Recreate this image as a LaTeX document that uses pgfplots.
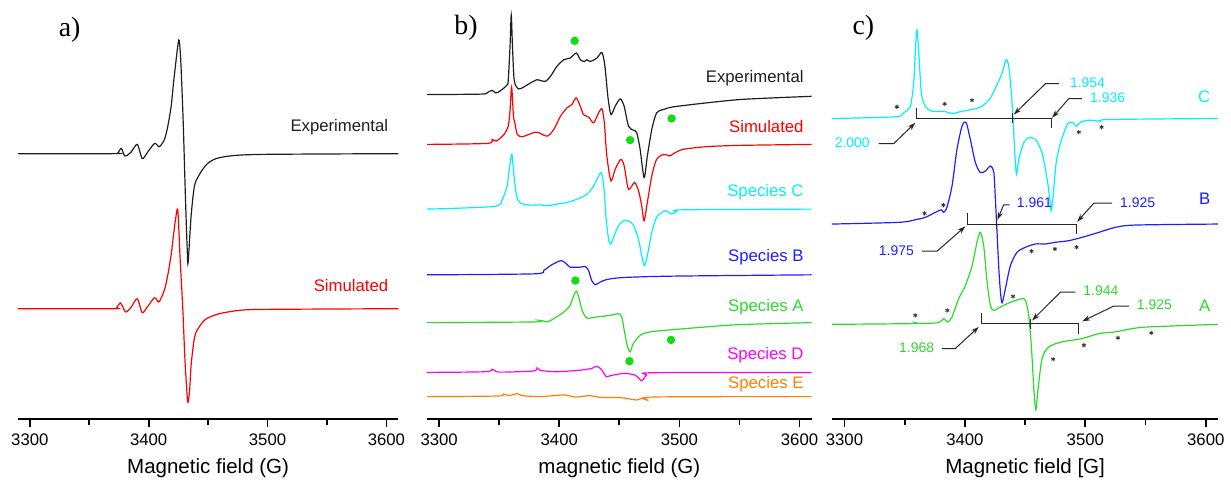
\documentclass[border=0pt]{standalone}
\usepackage{fontspec}
\setmainfont{Liberation Sans}
\newfontfamily\serif{Liberation Serif}
\usepackage{pgfplots}
\pgfplotsset{compat=1.18}
\usetikzlibrary{arrows.meta}

\definecolor{cExp}{RGB}{30,30,30}
\definecolor{cSim}{RGB}{255,0,0}
\definecolor{cC}{RGB}{0,240,255}
\definecolor{cB}{RGB}{30,30,255}
\definecolor{cA}{RGB}{40,220,40}
\definecolor{cD}{RGB}{255,0,255}
\definecolor{cE}{RGB}{255,128,0}
\definecolor{cDot}{RGB}{20,220,20}

\pgfplotsset{
  epr/.style={
    scale only axis, height=210.5pt, anchor=south west,
    xmin=3290, xmax=3610, ymin=0, ymax=421,
    axis x line*=bottom, axis y line=none, clip=false,
    xtick={3300,3400,3500,3600}, minor xtick={3350,3450,3550},
    tick align=outside, major tick length=4pt, minor tick length=3pt,
    every tick/.style={black, line width=0.9pt},
    axis line style={black, line width=1.2pt},
    xticklabel style={font=\fontsize{8.4}{9}\selectfont,
      /pgf/number format/1000 sep={}},
    /pgf/number format/assume math mode=true,
    xlabel style={font=\fontsize{10.3}{12}\selectfont,
      at={(axis description cs:0.5,0)}, anchor=center, yshift=-24.5pt},
    every axis plot/.append style={line width=0.6pt, mark=none, smooth, tension=0.45},
  },
  star/.style={only marks, mark=asterisk, mark size=1.1pt, black!80,
    mark options={line width=0.4pt}},
}
\tikzset{
  lab/.style={anchor=east, font=\fontsize{8.4}{10}\selectfont},
  labc/.style={font=\fontsize{7}{8}\selectfont},
  ann/.style={black!85, line width=0.55pt},
  arr/.style={black!85, line width=0.5pt, -{Stealth[length=4pt,width=2.6pt]}},
}

\begin{document}
\begin{tikzpicture}
\path (0,0) rectangle (615.5pt,243pt);

% ---------------- a)
\begin{axis}[epr, at={(9pt,32.5pt)}, width=191pt, xlabel={Magnetic field (G)}]
\addplot[cExp] coordinates {
(3290,266.7) (3370,266.7) (3374,267.5) (3377,272) (3380,264.3) (3385,268)
(3390.4,276) (3394.6,261.7) (3399,268) (3405,277) (3409,273.7) (3413.3,281)
(3416.1,294.3) (3418.9,314.3) (3420.9,337.7) (3423.1,361) (3424.8,377.7)
(3425.7,380.3) (3427,360) (3429,300) (3431,220) (3432.5,168) (3433.2,157.7)
(3435.7,204.3) (3438.5,234.3) (3442,244.3) (3445.5,251) (3449.7,257)
(3456.7,261.7) (3470.7,264.7) (3498.7,266) (3610,266.7)};
\addplot[cSim] coordinates {
(3290,111) (3370,111) (3373,112) (3376.4,116.7) (3380.6,107.7) (3385,112)
(3390.4,121) (3394.6,107) (3399,113) (3405,122) (3408.6,117.7) (3413.3,130)
(3416.1,145) (3418.9,165) (3420.9,185) (3422.5,200) (3424.5,210) (3426.5,160)
(3428.7,111) (3430.5,60) (3432.3,25) (3433.2,17) (3434.5,30) (3435.7,54.3)
(3438,78) (3440,87.7) (3445.5,97.7) (3449.7,101.7) (3459.5,106) (3476,109.3)
(3498,110.3) (3610,111)};
\node[lab, cExp] at (axis cs:3607.4,293) {Experimental};
\node[lab, cSim] at (axis cs:3607.4,134) {Simulated};
\node[font=\serif\fontsize{14}{16}\selectfont] at (axis cs:3333.5,391) {a)};
\end{axis}

% ---------------- b)
\begin{axis}[epr, at={(214.5pt,32.5pt)}, width=193pt, xlabel={magnetic field (G)}]
\addplot[cExp] coordinates {
(3290,326) (3335,326.5) (3340,328) (3344,330.3) (3347,327.7) (3350,329)
(3354,332.7) (3356.7,336) (3357.5,340) (3359,375) (3360,406) (3361,375)
(3362.5,340) (3366,331.7) (3370.5,333.7) (3376,337.7) (3381.6,341)
(3384,340.3) (3388.5,339.3) (3392.6,344.3) (3398,354.3) (3403.7,361)
(3409,362.7) (3414.2,367.7) (3417.5,361) (3420.8,359.3) (3423,361)
(3425.8,359.3) (3431.3,362.7) (3435.5,368.3) (3438,354.3) (3440.4,324.3)
(3443,306) (3446.5,314.3) (3450.7,321.7) (3454,314.3) (3457.6,294.3)
(3461.7,290.3) (3464.5,287.7) (3467.3,271) (3470.6,242.7) (3473.3,264.3)
(3477,291) (3481,307.7) (3486.6,311) (3495,313.7) (3522.6,317.7)
(3550,321) (3578,322.7) (3610,324.3)};
\addplot[cSim] coordinates {
(3290,276) (3340,277) (3344,281) (3347.5,279.3) (3354,286) (3357.5,294.3)
(3359,310) (3360.3,333.7) (3361.8,305) (3363,297.7) (3365,286) (3369,283.7)
(3374.6,286) (3380,288.3) (3383,287.7) (3390,284.3) (3395.4,291)
(3401,304.3) (3406.4,312.7) (3410.5,316) (3414,322.7) (3417.5,314.3)
(3420,306) (3423,304.3) (3425,302.7) (3428.6,297.7) (3432.7,307.7)
(3435.5,311.7) (3437.5,297.7) (3439.6,264.3) (3443,239.3) (3446.5,251)
(3451.2,261) (3454,254.3) (3457.6,231) (3462.6,237.7) (3466,229.3)
(3468.6,214.3) (3470.6,199.3) (3473.3,217.7) (3477,244.3) (3481,261)
(3487,266) (3492,264.3) (3495,266.7) (3503,271) (3522.6,273.7)
(3550,275) (3610,276)};
\addplot[cC] coordinates {
(3290,211) (3345.6,213.7) (3352.5,221) (3356.5,234.3) (3358.7,254.3)
(3360.5,266) (3362,247.7) (3364.4,224.3) (3367.7,217) (3376,215)
(3384,215.3) (3390,214.3) (3398,216) (3406.4,217.7) (3414.7,221) (3423,226)
(3428.6,234.3) (3432.7,244.3) (3435,247.7) (3437,234.3) (3438.8,204.3)
(3441,181) (3443,176) (3445.2,182.7) (3449.3,194.3) (3453.4,199.3)
(3457.5,199.3) (3461.7,195) (3465.9,181) (3468.6,164.3) (3470.9,154.3)
(3473.3,164.3) (3477,187.7) (3481,202.7) (3486.6,208.7) (3489.4,209.3)
(3493.5,206) (3497.6,208.7) (3503,210.3) (3610,211)};
\addplot[cB] coordinates {
(3290,145) (3378.8,146) (3387,149.3) (3392.6,154.3) (3398,157.7)
(3401.7,159.3) (3405,157) (3409,152.7) (3413,152.7) (3417.5,152.7)
(3421.6,153.3) (3424.4,149.3) (3427,139.3) (3430,135) (3434,137.7)
(3439.6,140.3) (3453.4,142.3) (3494.7,143.7) (3610,145)};
\addplot[cA] coordinates {
(3290,97) (3378.8,97.7) (3383,99.3) (3385.7,99) (3390,97.7) (3395.4,101)
(3403.7,107.7) (3409,114.3) (3412,124.3) (3414.2,128.7) (3416.2,122.7)
(3419,109.3) (3423,101.7) (3431.3,102.7) (3442.4,104.3) (3449.3,106)
(3452,102.7) (3454.3,87.7) (3456.8,72.7) (3459,67.7) (3461.7,76)
(3467.3,84.3) (3475.6,87.7) (3495,90) (3522.6,92.7) (3550,95) (3610,97)};
\addplot[cD] coordinates {
(3290,47) (3338.7,47.7) (3344,50.3) (3347.8,47.7) (3354,47.3) (3378.8,48.5)
(3381.5,51.7) (3384.3,49) (3398,47.7) (3417.5,49.3) (3427,51) (3431.3,53.3)
(3435.5,49.3) (3439,42.7) (3442.4,43.7) (3453.4,46) (3463,44.3)
(3468.6,38.7) (3472.7,44.3) (3478.3,46.7) (3610,47)};
\addplot[cE] coordinates {
(3290,22.7) (3348.4,23.3) (3353.4,25.3) (3358,23.7) (3365,25.7) (3369.1,23.7)
(3384,22.7) (3403.7,24.3) (3413.4,22.3) (3425.8,23.7) (3434,22) (3450.7,21.7)
(3464.5,19.3) (3470,21.7) (3474.2,18.7) (3478.3,22.3) (3610,22.7)};
\addplot[only marks, mark=*, mark size=1.8pt, cDot, mark options={draw=cDot}] coordinates {
(3412.8,380) (3493.5,302) (3459,280.3) (3413.4,139.3) (3493,79.7) (3458.4,58.3)};
\node[lab, cExp] at (axis cs:3609.2,342) {Experimental};
\node[lab, cSim] at (axis cs:3609.2,294) {Simulated};
\node[lab, cC] at (axis cs:3609.2,228) {Species C};
\node[lab, cB] at (axis cs:3609.2,163) {Species B};
\node[lab, cA] at (axis cs:3609.2,113) {Species A};
\node[lab, cD] at (axis cs:3609.2,64) {Species D};
\node[lab, cE] at (axis cs:3609.2,35) {Species E};
\node[font=\serif\fontsize{14}{16}\selectfont] at (axis cs:3322.3,393) {b)};
\end{axis}

% ---------------- c)
\begin{axis}[epr, at={(418pt,32.5pt)}, width=193.5pt, xlabel={Magnetic field [G]}]
\addplot[cC] coordinates {
(3289.5,302) (3342,303.7) (3349,307.7) (3354.6,314.3) (3357.5,337.7)
(3358.9,371) (3360.2,391) (3361.9,364.3) (3363.8,327.7) (3367,314.3)
(3372.6,309.3) (3382.3,309.3) (3389.3,307) (3397.6,309.3) (3406,311)
(3414.2,314.3) (3421.2,322.7) (3426.7,336) (3430.9,347.7) (3434.2,361)
(3436.4,354.3) (3438.6,327.7) (3440,301) (3441.4,267.7) (3442.8,246)
(3444.7,261) (3448.9,277.7) (3453,282.7) (3458.6,281) (3464,267.7)
(3468.3,241) (3470.5,221) (3471.6,209.3) (3473,221) (3475.8,257.7)
(3479.4,277.7) (3485,296) (3489,298.3) (3492.7,294.3) (3496,298.3)
(3503,300.3) (3512.6,299.3) (3519.5,301) (3610,302)};
\addplot[cB] coordinates {
(3289.5,196) (3345,197.7) (3358.8,200.3) (3367,202.7) (3375.4,207.7)
(3380.4,210.3) (3382.3,207.7) (3385,212.7) (3389.3,234.3) (3393.4,271)
(3397.6,294.3) (3400.9,298.3) (3404.5,281) (3408.7,257.7) (3412.8,247.7)
(3417,249.3) (3421.2,254.3) (3424,247.7) (3425.3,221) (3426.7,187.7)
(3428,154.3) (3429.5,127.7) (3430.9,117) (3433.6,131) (3437.8,154.3)
(3443.3,167.7) (3450.3,172.7) (3458.6,176) (3466.9,176) (3475.2,177.7)
(3486.3,179.3) (3497.4,182.7) (3511.3,187.7) (3525,192.7) (3541.8,195)
(3610,196)};
\addplot[cA] coordinates {
(3289.5,95.3) (3356,96) (3358.8,97) (3361.5,96) (3378.2,97) (3382.3,101)
(3385.7,97.7) (3389.3,102.7) (3394.8,121) (3400.4,134.3) (3406,154.3)
(3410,177.7) (3412.8,187.7) (3415.6,174.3) (3418.4,137.7) (3421.2,114.3)
(3424,109.3) (3429.5,112.7) (3435,116) (3442,119.3) (3447.5,121)
(3450.3,119.3) (3453,104.3) (3455.3,71) (3457.2,31) (3458.9,9.3)
(3460.8,31) (3464.1,61) (3469.7,72.7) (3480.8,77.7) (3497.4,81)
(3511.3,86) (3525,87.7) (3538.9,91) (3552.8,92.7) (3610,95.3)};
\addplot[star] coordinates {
(3343.5,313.7) (3383.2,316.7) (3405.9,320.3) (3494.6,288.3) (3513.5,293.3)
(3366.5,206.7) (3382.1,215) (3455.3,168.7) (3474.7,171) (3492.7,172.7)
(3358.8,104.3) (3385.4,109.3) (3440,123.3) (3473.3,60.3) (3498.8,74.3)
(3527.1,81.7) (3554.8,86.7)};
% g-value brackets
\draw[ann] (axis cs:3359.6,312.7) -- (axis cs:3359.6,302) -- (axis cs:3471.6,302) -- (axis cs:3471.6,292.7);
\draw[ann] (axis cs:3439.7,307.7) -- (axis cs:3439.7,297);
\draw[ann] (axis cs:3402.3,206.7) -- (axis cs:3402.3,196) -- (axis cs:3492.4,196) -- (axis cs:3492.4,186);
\draw[ann] (axis cs:3426.1,201) -- (axis cs:3426.1,191);
\draw[ann] (axis cs:3413.4,106.7) -- (axis cs:3413.4,96) -- (axis cs:3494.6,96) -- (axis cs:3494.6,86);
\draw[ann] (axis cs:3454.4,101) -- (axis cs:3454.4,91);
% leaders
\draw[arr] (axis cs:3478,337) -- (axis cs:3466.9,337) -- (axis cs:3440.6,306);
\draw[arr] (axis cs:3497.4,322) -- (axis cs:3486.3,322) -- (axis cs:3472.4,302.7);
\draw[arr] (axis cs:3328.3,276.7) -- (axis cs:3340.8,276.7) -- (axis cs:3358.8,297.7);
\draw[arr] (axis cs:3437.2,215.3) -- (axis cs:3432.2,215.3) -- (axis cs:3427,200.3);
\draw[arr] (axis cs:3522.3,217) -- (axis cs:3507.1,217) -- (axis cs:3493.2,198.3);
\draw[arr] (axis cs:3364.3,168.7) -- (axis cs:3376.8,168.7) -- (axis cs:3400.4,193.7);
\draw[arr] (axis cs:3491.8,127.7) -- (axis cs:3479.4,127.7) -- (axis cs:3455.8,99.3);
\draw[arr] (axis cs:3536.2,113.7) -- (axis cs:3523.7,113.7) -- (axis cs:3497.4,98.3);
\draw[arr] (axis cs:3381,71) -- (axis cs:3392,71) -- (axis cs:3411.5,92.7);
\node[labc, cC, anchor=west] at (axis cs:3481.5,337.7) {1.954};
\node[labc, cC, anchor=west] at (axis cs:3498.2,322.7) {1.936};
\node[labc, cC, anchor=east] at (axis cs:3326.8,277.7) {2.000};
\node[labc, cB, anchor=west] at (axis cs:3437.4,217) {1.961};
\node[labc, cB, anchor=west] at (axis cs:3523.1,217.7) {1.925};
\node[labc, cB, anchor=east] at (axis cs:3363.4,169.3) {1.975};
\node[labc, cA, anchor=west] at (axis cs:3492.6,128.7) {1.944};
\node[labc, cA, anchor=west] at (axis cs:3537,115) {1.925};
\node[labc, cA, anchor=east] at (axis cs:3380.2,71.7) {1.968};
\node[lab, cC] at (axis cs:3609.5,323.7) {C};
\node[lab, cB] at (axis cs:3609.5,221) {B};
\node[lab, cA] at (axis cs:3609.5,113.7) {A};
\node[font=\serif\fontsize{14}{16}\selectfont] at (axis cs:3315.7,393) {c)};
\end{axis}
\end{tikzpicture}
\end{document}
